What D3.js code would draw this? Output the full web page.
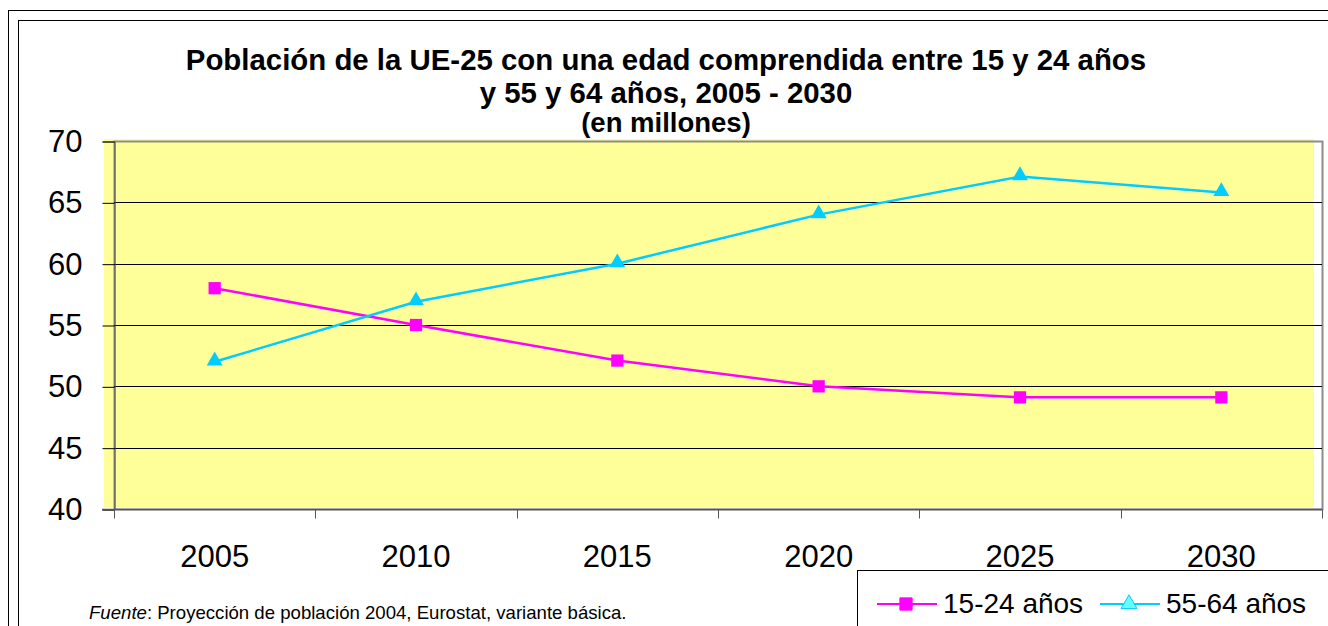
<!DOCTYPE html>
<html>
<head>
<meta charset="utf-8">
<script src="https://cdn.jsdelivr.net/npm/d3@7"></script>
<style>
  body { margin: 0; background: #fff; }
  text { font-family: "Liberation Sans", Arial, sans-serif; }
</style>
</head>
<body>
<div id="chart"></div>
<script>
// data
var years = ["2005", "2010", "2015", "2020", "2025", "2030"];
var young = [58, 55, 52.1, 50, 49.1, 49.1];     // 15-24 años
var older = [52, 56.9, 60, 64, 67.1, 65.8];     // 55-64 años
var yTicks = [40, 45, 50, 55, 60, 65, 70];
var seriesNames = ["15-24 años", "55-64 años"];

var svgWidth = 1328;
var svgHeight = 626;

var svg = d3.select("#chart")
  .append("svg")
  .attr("width", svgWidth)
  .attr("height", svgHeight);

// double frame around the chart (runs off the page right and bottom)
svg.append("rect")
  .attr("x", 8.5).attr("y", 10.5)
  .attr("width", 1340).attr("height", 640)
  .attr("fill", "none").attr("stroke", "#000");
svg.append("rect")
  .attr("x", 18.5).attr("y", 20.5)
  .attr("width", 1330).attr("height", 630)
  .attr("fill", "none").attr("stroke", "#000");

// title (drawn before the plot so the yellow area sits over the last line's tail)
var title = svg.append("g")
  .attr("font-weight", "bold")
  .attr("text-anchor", "middle");
title.append("text")
  .attr("x", 666).attr("y", 70)
  .attr("font-size", 29.4)
  .text("Población de la UE-25 con una edad comprendida entre 15 y 24 años");
title.append("text")
  .attr("x", 666).attr("y", 103)
  .attr("font-size", 29.4)
  .text("y 55 y 64 años, 2005 - 2030");
title.append("text")
  .attr("x", 666).attr("y", 132)
  .attr("font-size", 27.5)
  .text("(en millones)");

var plot = { left: 114, right: 1322, top: 141, bottom: 509 };

var x = d3.scaleBand()
  .domain(years)
  .range([plot.left, plot.right])
  .padding(0);

var y = d3.scaleLinear()
  .domain([40, 70])
  .range([plot.bottom, plot.top]);

// yellow background, slightly offset like the original
svg.append("rect")
  .attr("x", plot.left - 10)
  .attr("y", plot.top - 2)
  .attr("width", plot.right - plot.left + 2)
  .attr("height", plot.bottom - plot.top)
  .attr("fill", "#FFFF99");

// gray plot frame
svg.append("rect")
  .attr("x", plot.left + 0.5)
  .attr("y", plot.top + 0.5)
  .attr("width", plot.right - plot.left)
  .attr("height", plot.bottom - plot.top)
  .attr("fill", "none")
  .attr("stroke", "#8c8c8c")
  .attr("stroke-width", 2);

// gridlines
svg.append("g")
  .selectAll("line")
  .data(yTicks.filter(d => d > 40 && d < 70))
  .enter()
  .append("line")
  .attr("x1", plot.left)
  .attr("x2", plot.right)
  .attr("y1", d => Math.round(y(d)) + 0.5)
  .attr("y2", d => Math.round(y(d)) + 0.5)
  .attr("stroke", "#000");

// y axis
var leftAxis = d3.axisLeft(y)
  .tickValues(yTicks)
  .tickSize(12)
  .tickPadding(20)
  .tickFormat(d3.format("d"));

var yAxis = svg.append("g")
  .attr("transform", `translate(${plot.left + 0.5}, 0.5)`)
  .call(leftAxis);
yAxis.select(".domain").attr("stroke", "#555");
yAxis.selectAll(".tick line").attr("stroke", "#000");
yAxis.selectAll("text")
  .attr("font-size", 31)
  .attr("font-family", "Liberation Sans, Arial, sans-serif")
  .attr("fill", "#000");

// x axis: tick marks at category boundaries, labels centred
var xAxisG = svg.append("g")
  .attr("transform", `translate(0, ${plot.bottom + 0.5})`);
xAxisG.append("line")
  .attr("x1", plot.left - 12).attr("x2", plot.right)
  .attr("y1", 0).attr("y2", 0)
  .attr("stroke", "#555")
  .attr("stroke-width", 1.5);
var bounds = years.map(d => x(d)).concat([x(years[years.length - 1]) + x.bandwidth()]);
xAxisG.selectAll("line.tk")
  .data(bounds)
  .enter()
  .append("line")
  .attr("class", "tk")
  .attr("x1", d => Math.round(d) + 0.5)
  .attr("x2", d => Math.round(d) + 0.5)
  .attr("y1", 0).attr("y2", 9)
  .attr("stroke", "#555");
xAxisG.selectAll("text")
  .data(years)
  .enter()
  .append("text")
  .attr("x", d => x(d) + x.bandwidth() / 2)
  .attr("y", 57)
  .attr("text-anchor", "middle")
  .attr("font-size", 31)
  .text(d => d);

// lines
var line = d3.line()
  .x((d, i) => x(years[i]) + x.bandwidth() / 2)
  .y(d => y(d));

svg.append("path")
  .datum(young)
  .attr("d", line)
  .attr("fill", "none")
  .attr("stroke", "#FF00FF")
  .attr("stroke-width", 2.5);

svg.append("path")
  .datum(older)
  .attr("d", line)
  .attr("fill", "none")
  .attr("stroke", "#00CCFF")
  .attr("stroke-width", 2.5);

var square = d3.symbol().type(d3.symbolSquare).size(150);
var triangle = d3.symbol().type(d3.symbolTriangle).size(110);

svg.append("g")
  .selectAll("path")
  .data(young)
  .enter()
  .append("path")
  .attr("d", square)
  .attr("transform", (d, i) => `translate(${x(years[i]) + x.bandwidth() / 2}, ${y(d)})`)
  .attr("fill", "#FF00FF");

svg.append("g")
  .selectAll("path")
  .data(older)
  .enter()
  .append("path")
  .attr("d", triangle)
  .attr("transform", (d, i) => `translate(${x(years[i]) + x.bandwidth() / 2}, ${y(d) - 1})`)
  .attr("fill", "#00CCFF");

// source note
var note = svg.append("text")
  .attr("x", 89).attr("y", 619)
  .attr("font-size", 18.6);
note.append("tspan").attr("font-style", "italic").text("Fuente");
note.append("tspan").text(": Proyección de población 2004, Eurostat, variante básica.");

// legend
var legend = svg.append("g");
legend.append("rect")
  .attr("x", 857.5).attr("y", 570.5)
  .attr("width", 500).attr("height", 80)
  .attr("fill", "#fff")
  .attr("stroke", "#000");

var legendItems = [
  { name: seriesNames[0], color: "#FF00FF", x0: 877, sym: square, fill: "#FF00FF" },
  { name: seriesNames[1], color: "#00CCFF", x0: 1100, sym: triangle, fill: "#66FFFF" }
];
legendItems.forEach(function(item) {
  legend.append("line")
    .attr("x1", item.x0).attr("x2", item.x0 + 60)
    .attr("y1", 604).attr("y2", 604)
    .attr("stroke", item.color)
    .attr("stroke-width", 2);
  legend.append("path")
    .attr("d", item.sym)
    .attr("transform", `translate(${item.x0 + 29}, ${604})`)
    .attr("fill", item.fill)
    .attr("stroke", item.color)
    .attr("stroke-width", 1);
  legend.append("text")
    .attr("x", item.x0 + 66)
    .attr("y", 613)
    .attr("font-size", 28)
    .text(item.name);
});
</script>
</body>
</html>
